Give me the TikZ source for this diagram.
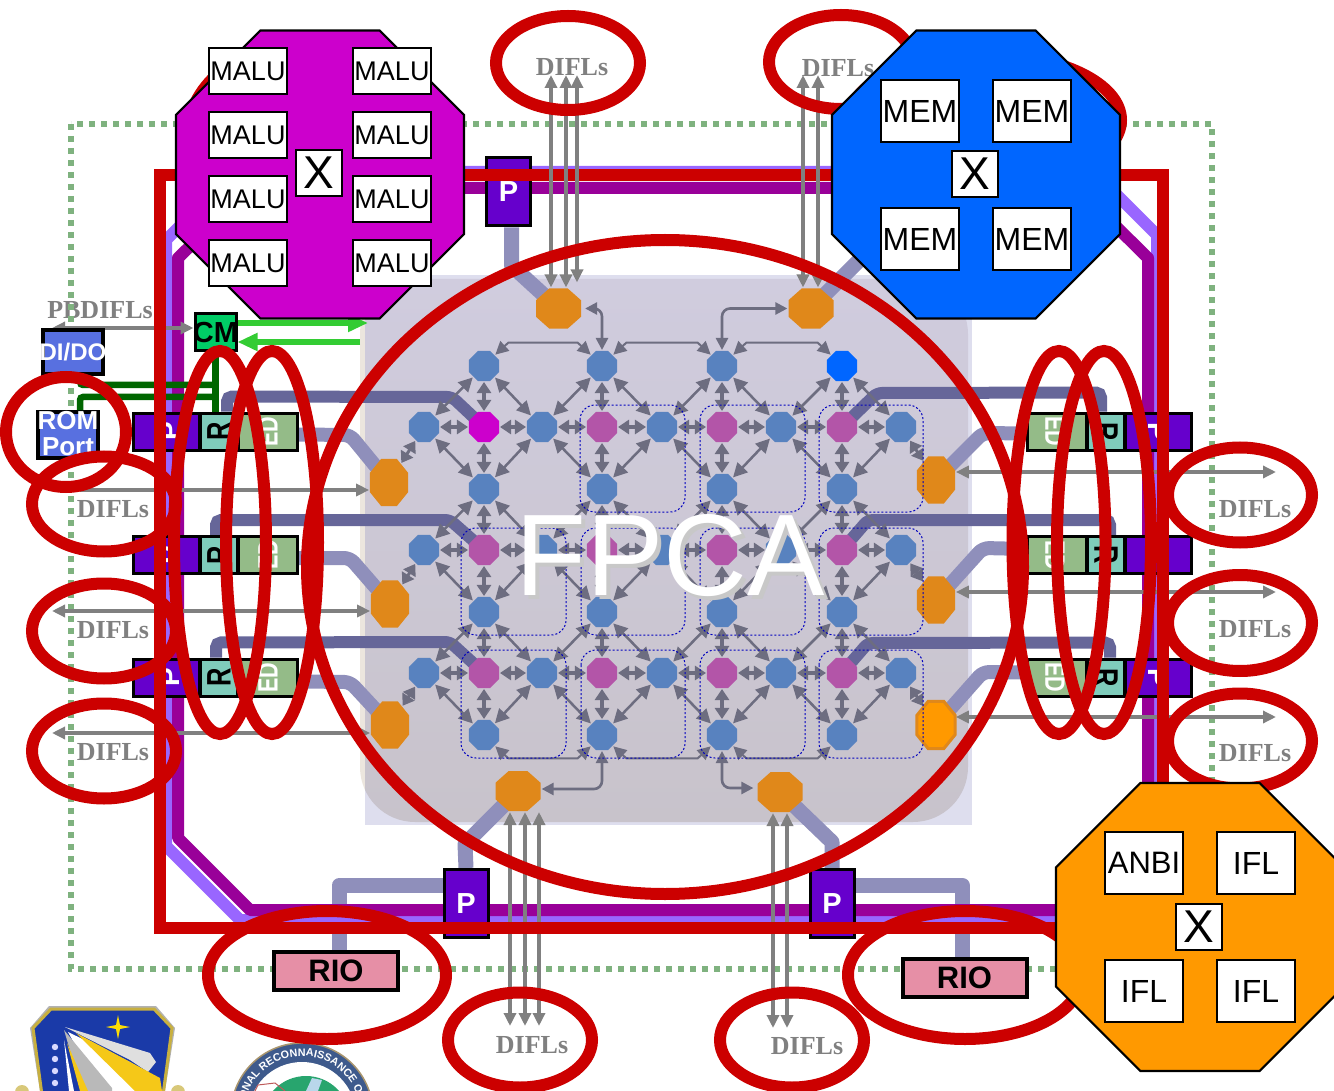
\documentclass[tikz,border=0pt]{standalone}
\usepackage{fontspec}
\setmainfont{Liberation Sans}
\newfontfamily\lserif{Liberation Serif}
\usetikzlibrary{shapes.geometric,arrows.meta,decorations.text}
\definecolor{redc}{HTML}{CC0000}
\definecolor{purp}{HTML}{990099}
\definecolor{viol}{HTML}{9966FF}
\definecolor{pbox}{HTML}{6600CC}
\definecolor{dots}{HTML}{7FB27F}
\definecolor{dbus}{HTML}{666699}
\definecolor{lbus}{HTML}{8F8FBB}
\definecolor{bluen}{HTML}{5882BF}
\definecolor{pinkn}{HTML}{B355A8}
\definecolor{magn}{HTML}{CC00CC}
\definecolor{bright}{HTML}{0066FF}
\definecolor{orgn}{HTML}{E0881A}
\definecolor{orgb}{HTML}{FF9900}
\definecolor{arr}{HTML}{6D6D80}
\definecolor{gry}{HTML}{808080}
\definecolor{rioc}{HTML}{E68FA6}
\definecolor{tealc}{HTML}{7FCCBB}
\definecolor{edc}{HTML}{94BB88}
\definecolor{didoc}{HTML}{5870E0}
\definecolor{cmc}{HTML}{00CC66}
\definecolor{dgreen}{HTML}{006600}
\definecolor{lgreen}{HTML}{33CC33}
\definecolor{shb}{HTML}{1A3AA8}
\definecolor{shg}{HTML}{C8B040}
\definecolor{shy}{HTML}{F5C818}
\definecolor{panA}{HTML}{ECE6DE}
\definecolor{panB}{HTML}{DEDEEE}
\definecolor{panT}{HTML}{D0CCDE}
\definecolor{panD}{HTML}{C8C3CB}
\definecolor{fshadow}{HTML}{C8C8C8}
\definecolor{sealb}{HTML}{3E5A8C}
\definecolor{sealr}{HTML}{AA966E}
\definecolor{sealg}{HTML}{28A56E}
\definecolor{seall}{HTML}{B9D7EB}
\definecolor{sealc}{HTML}{BE5A5A}
\pgfdeclarelayer{backl}
\pgfdeclarelayer{busl}
\pgfsetlayers{backl,busl,main}
\tikzset{
  oct/.style={regular polygon,regular polygon sides=8,inner sep=0pt},
  gridn/.style={oct,minimum size=32.5pt,outer sep=1pt,draw=none},
  orgH/.style={oct,minimum size=43.3pt,xscale=1.125,transform shape,fill=orgn,outer sep=1pt,draw=none},
  orgV/.style={oct,minimum size=50.9pt,xscale=.81,transform shape,fill=orgn,outer sep=1pt,draw=none},
  bigoct/.style={oct,minimum size=311.7pt,draw=black,line width=2.2pt},
  wbox/.style={draw=black,fill=white,line width=2.5pt,inner sep=0pt,minimum width=78pt,text=black},
  xbox/.style={draw=black,fill=white,line width=2.5pt,inner sep=0pt,minimum width=46pt,minimum height=46pt,font=\fontsize{46}{46}\selectfont},
  pnode/.style={draw=black,fill=pbox,line width=3pt,inner sep=0pt,minimum width=44pt,minimum height=68pt,text=white,font=\fontsize{29}{29}\selectfont\bfseries},
  stackb/.style={draw=black,line width=3pt,inner sep=0pt,minimum height=37pt},
  riobox/.style={draw=black,fill=rioc,line width=4pt,inner sep=0pt,minimum width=124pt,minimum height=38pt,font=\fontsize{31}{31}\selectfont\bfseries},
  romb/.style={draw=black,fill=didoc,line width=4pt,inner sep=0pt},
  difl/.style={text=gry,font=\fontsize{26}{26}\lserif\bfseries\selectfont,inner sep=0pt},
  redring/.style={draw=redc,line width=12pt},
  dbusl/.style={draw=dbus,line width=12pt,rounded corners=5pt},
  lbusl/.style={draw=lbus,line width=15pt,line join=round},
  lbuss/.style={lbusl,line width=14pt,rounded corners=6pt},
  ga/.style={draw=gry,line width=3.4pt,>={Triangle[length=13pt,width=12pt]}},
  gb/.style={draw=arr,line width=3.6pt,<->,>={Triangle[length=11pt,width=14pt]}},
  gd/.style={draw=arr,line width=2.5pt,<->,>={Triangle[length=14pt,width=14pt]}},
  gl/.style={draw=arr,line width=2pt,<->,>={Triangle[length=13pt,width=13pt]}},
  gc/.style={draw=arr,line width=2.6pt,<->,>={Triangle[length=12pt,width=12pt]},rounded corners=8pt},
  clus/.style={draw=blue!75!black,line width=1pt,dash pattern=on 2pt off 2pt,rounded corners=15pt},
  lgarrow/.style={draw=lgreen,line width=6pt,-{Triangle[length=20pt,width=17pt]}},
  dgline/.style={draw=dgreen,line width=6.5pt,rounded corners=3pt},
}
\begin{document}
\begin{tikzpicture}[x=1pt,y=-1pt]
\useasboundingbox (0,0) rectangle (1334,1091);
% P boxes, RIO and other named nodes
\node[pnode] (pT1) at (508.5,192) {P};
\node[pnode] (pB1) at (466,903.5) {P};
\node[pnode] (pB2) at (832,903.5) {P};
\node[riobox] (rioL) at (336,970.5) {RIO};
\node[riobox] (rioR) at (964.5,977.5) {RIO};
\node[draw=black,fill=cmc,line width=3pt,inner sep=0pt,minimum width=41pt,minimum height=37pt,font=\fontsize{29}{29}\selectfont\bfseries] (cm) at (215.5,332.5) {\makebox[0pt][c]{CM}};
% stacks
\foreach \k/\y in {1/431.5,2/555,3/677.5}{
  \node[stackb,fill=pbox,minimum width=66pt] (sp\k) at (166.5,\y) {};
  \node[stackb,fill=tealc,minimum width=37pt] (sr\k) at (219,\y) {};
  \node[stackb,fill=edc,minimum width=59pt] (se\k) at (268,\y) {};
  \node[stackb,fill=edc,minimum width=59pt] (te\k) at (1057,\y) {};
  \node[stackb,fill=tealc,minimum width=37pt] (tr\k) at (1106,\y) {};
  \node[stackb,fill=pbox,minimum width=66pt] (tp\k) at (1158.5,\y) {};
  \node[rotate=90,text=white,inner sep=0pt,font=\fontsize{28}{28}\selectfont\bfseries] (spt\k) at (170,\y) {P};
  \node[rotate=90,text=black,inner sep=0pt,font=\fontsize{34}{34}\selectfont\bfseries] (srt\k) at (219,\y) {\scalebox{.75}[1]{R}};
  \node[rotate=90,text=white,inner sep=0pt,font=\fontsize{28}{28}\selectfont\bfseries] (set\k) at (268,\y) {\scalebox{.77}[1]{ED}};
  \node[rotate=-90,text=white,inner sep=0pt,font=\fontsize{28}{28}\selectfont\bfseries] (tet\k) at (1055,\y) {\scalebox{.77}[1]{ED}};
  \node[rotate=-90,text=black,inner sep=0pt,font=\fontsize{34}{34}\selectfont\bfseries] (trt\k) at (1106,\y) {\scalebox{.75}[1]{R}};
  \node[rotate=-90,text=white,inner sep=0pt,font=\fontsize{28}{28}\selectfont\bfseries] (tpt\k) at (1158,\y) {P};
}
% grid nodes
\foreach \c/\x in {1/484,3/602,5/722,7/842}
  \foreach \r/\y in {0/366,2/489,4/612,6/735}{
    \def\fc{bluen}\ifnum\c\r=70 \def\fc{bright}\fi
    \node[gridn,fill=\fc] (n\c\r) at (\x,\y) {};
  }
\foreach \r/\y in {1/427,3/550,5/673}{
  \foreach \c/\x in {0/424,2/542,4/662,6/781,8/901}
    \node[gridn,fill=bluen] (n\c\r) at (\x,\y) {};
  \foreach \c/\x in {1/484,3/602,5/722,7/842}{
    \def\fc{pinkn}\ifnum\c\r=11 \def\fc{magn}\fi
    \node[gridn,fill=\fc] (n\c\r) at (\x,\y) {};
  }
}
% orange nodes
\node[orgH] (oT1) at (558.5,308.5) {};
\node[orgH] (oT2) at (811,308.5) {};
\node[orgH] (oB1) at (518,791) {};
\node[orgH] (oB2) at (780,792) {};
\node[orgV] (oL1) at (389,482.5) {};
\node[orgV] (oL2) at (390,604) {};
\node[orgV] (oL3) at (390,725) {};
\node[orgV] (oR1) at (936,480) {};
\node[orgV] (oR2) at (936,600) {};
\node[orgV,fill=orgb,draw=orgn,line width=3pt] (oR3) at (936,725) {};
% back layer
\begin{pgfonlayer}{backl}
\fill[panA,rounded corners=55pt] (360,279) rectangle (968,822);
\fill[panB] (365,275) rectangle (972,825);
\begin{scope}
\clip (365,275) rectangle (972,825);
\shade[top color=panT,bottom color=panD,rounded corners=55pt] (360,279) rectangle (968,822);
\end{scope}
\node[difl] (lbPB) at (100,310) {PBDIFLs};
\foreach \n/\x/\y in {a/572/67,b/838/68,c/1255/509,d/1255/629,e/1255/753,f/113/509,g/113/630,h/113/752,i/532/1045,j/807/1046}
  \node[difl] (lb\n) at (\x,\y) {DIFLs};
\draw[dots,line width=5.5pt,dash pattern=on 6pt off 6pt] (71,124) rectangle (1212,969);
\draw[lbusl] ([yshift=18pt]pB1.west) -| ([xshift=3pt]rioL.north);
\draw[lbusl] ([yshift=18pt]pB2.east) -| ([xshift=-2pt]rioR.north);
\draw[viol,line width=12pt,line join=round] (166,240) -- (234,172) -- (1094,172) -- (1157,235) -- (1157,842) -- (1079,920) -- (240,920) -- (166,846) -- cycle;
\draw[purp,line width=12pt,line join=round] (178,258) -- (250,188) -- (1077,188) -- (1148,258) -- (1148,838) -- (1077,910) -- (250,910) -- (178,838) -- cycle;
\end{pgfonlayer}
% bus layer
\begin{pgfonlayer}{busl}
\draw[lbusl] ([xshift=3pt]pT1.south) -- ++(0,38) -- (oT1.center);
\draw[lbusl] (oT2.center) -- ++(60,-60);
\draw[lbusl] (oB1.center) -- ++(-53,53) -- (pB1.north);
\draw[lbusl] (oB2.center) -- ++(52,50) -- (pB2.north);
\draw[lbuss] ([yshift=-3pt]se1.east) -- (350,435) -- (oL1.center);
\draw[lbuss] ([yshift=-3pt]se2.east) -- (350,558) -- (oL2.center);
\draw[lbuss] ([yshift=-4pt]se3.east) -- (350,682) -- (oL3.center);
\draw[lbuss] ([yshift=-2pt]te1.west) -- (983,433) -- (oR1.center);
\draw[lbuss] ([yshift=6pt]te2.west) -- (983,548) -- (oR2.center);
\draw[lbuss] ([yshift=5pt]te3.west) -- (983,672) -- (oR3.center);
\draw[dbusl] ([xshift=8pt]sr1.north) -- ++(0,-15) -- (452,397) -- (n11.center);
\draw[dbusl] ([xshift=-3pt]sr2.north) -- ++(0,-15) -- (450,520) -- (n13.center);
\draw[dbusl] ([xshift=-3pt]sr3.north) -- ++(0,-15) -- (450,642) -- (n15.center);
\draw[dbusl] ([xshift=-5pt]tr1.north) -- ++(0,-19) -- (877,393) -- (n71.center);
\draw[dbusl] ([xshift=4pt]tr2.north) -- ++(0,-15) -- (868,520) -- (n73.center);
\draw[dbusl] ([xshift=4pt]tr3.north) -- ++(0,-15) -- (868,643) -- (n75.center);
\end{pgfonlayer}
% grid connectors
\foreach \r in {1,3,5}
  \foreach \a/\b in {0/1,1/2,2/3,3/4,4/5,5/6,6/7,7/8}
    \draw[gb] (n\a\r) -- (n\b\r);
\foreach \c in {1,3,5,7}
  \foreach \a/\b in {0/1,1/2,2/3,3/4,4/5,5/6}
    \draw[gb] (n\c\a) -- (n\c\b);
\foreach \c/\l/\m in {1/0/2,3/2/4,5/4/6,7/6/8}
  \foreach \r/\o in {0/1,2/1,2/3,4/3,4/5,6/5}{
    \draw[gd] (n\c\r) -- (n\l\o);
    \draw[gd] (n\c\r) -- (n\m\o);
  }
\foreach \a/\b in {1/3,3/5,5/7}{
  \draw[gl] (n\a0.45) -- ++(13,-12) -- ([shift={(-13pt,12pt)}]n\b0.135) -- (n\b0.135);
  \draw[gl] (n\a6.-45) -- ++(13,12) -- ([shift={(-13pt,-12pt)}]n\b6.-135) -- (n\b6.-135);
}
\draw[gb,line width=3pt] (oL1) -- (n01);
\draw[gb,line width=3pt] (oL2) -- (n03);
\draw[gb,line width=3pt] (oL3) -- (n05);
\draw[gb,line width=3pt] (oR1) -- (n81);
\draw[gb,line width=3pt] (oR2) -- (n83);
\draw[gb,line width=3pt] (oR3) -- (n85);
\draw[gc] ([xshift=3pt]oT1.east) -| (n30.north);
\draw[gc] (oT2.west) -| (n50.north);
\draw[gc] ([yshift=2pt]oB1.east) -| (n36.south);
\draw[gc] (n56.south) |- ([yshift=4pt,xshift=-3pt]oB2.west);
% clusters
\foreach \a/\b in {580/685,700/805,819/923}
  \draw[clus] (\a,405) rectangle (\b,512);
\foreach \a/\b in {461/566,581/685,700/805,819/923}{
  \draw[clus] (\a,528) rectangle (\b,635);
  \draw[clus] (\a,650) rectangle (\b,758);
}
% grey arrows, side and bottom
\coordinate (hdd) at (52,328);
\draw[ga,<->] (hdd) -- (hdd -| cm.west);
\node[romb,minimum width=60pt,minimum height=44pt,text=white,font=\fontsize{24}{24}\selectfont\bfseries] (dido) at (73,352) {\makebox[0pt][c]{DI/DO}};
\node[romb,minimum width=60pt,minimum height=46pt] (rom) at (68,435) {};
\node[text=white,inner sep=0pt,align=center,font=\fontsize{26}{26}\selectfont\bfseries] (romt) at (68,434) {ROM\\Port};
\coordinate (hl1) at (80,490);
\coordinate (hl2) at (52,611);
\coordinate (hl3) at (52,733);
\draw[ga,->] (hl1) -- (hl1 -| oL1.west);
\draw[ga,<->] (hl2) -- (hl2 -| oL2.west);
\draw[ga,<->] (hl3) -- (hl3 -| oL3.west);
\foreach \k/\y in {1/472,2/592,3/717}{
  \coordinate (hr\k) at (1276,\y);
  \draw[ga,<->] (hr\k) -- (hr\k -| oR\k.east);
}
\foreach \k/\x in {1/510,2/525,3/539}{
  \coordinate (bl\k) at (\x,1026);
  \draw[ga,<->] (bl\k) -- (bl\k |- oB1.south);
}
\foreach \k/\x in {1/773,2/787}{
  \coordinate (br\k) at (\x,1028);
  \draw[ga,<->] (br\k) -- (br\k |- oB2.south);
}
% green links
\draw[dgline] (cm.south) -- (cm.south |- sr1.north);
\draw[dgline] ([xshift=7pt]dido.south) -- (80,385) -- (216,385);
\draw[dgline] ([xshift=12pt]rom.north) -- (80,397) -- (216,397);
\draw[lgarrow] ([yshift=9.5pt]cm.east) -- (368,323);
\coordinate (gs) at (360,342);
\draw[lgarrow] (gs) -- (gs -| cm.east);
% crest
\begin{scope}
\clip (0,0) rectangle (1334,1091);
\fill[gray!60] (49,1006) -- (156,1006) -- (175,1028) -- (165,1091) -- (40,1091) -- (30,1028) -- cycle;
\draw[shg,line width=3pt,fill=shb] (51,1009) -- (154,1009) -- (172,1028) -- (163,1095) -- (42,1095) -- (33,1028) -- cycle;
\fill[yellow!80!orange] (118,1015) -- (120,1025) -- (130,1027) -- (120,1029) -- (118,1039) -- (116,1029) -- (106,1027) -- (116,1025) -- cycle;
\foreach \y in {1047,1059,1071,1083} \fill[white!85!blue] (55,\y) circle (3.2pt);
\fill[white!75!gray] (65,1027) -- (150,1053) -- (156,1062) -- (148,1072) -- (130,1060) -- cycle;
\fill[white] (68,1032) -- (130,1062) -- (148,1074) -- (148,1091) -- (100,1091) -- cycle;
\fill[shy] (76,1033) -- (160,1078) -- (162,1091) -- (135,1091) -- cycle;
\fill[gray!55] (64,1030) -- (112,1088) -- (112,1091) -- (82,1091) -- cycle;
\fill[shy] (67,1043) -- (88,1091) -- (80,1091) -- cycle;
\fill[white] (64,1040) -- (74,1091) -- (69,1091) -- cycle;
\fill[shg!70!white] (22,1092) circle (7pt);
\fill[shg!70!white] (178,1092) circle (7pt);
% seal
\draw[fill=sealb,draw=sealr,line width=1.5pt] (302,1114) circle (71pt);
\fill[white] (302,1116) circle (54pt);
\fill[sealg] (306,1120) circle (44pt);
\fill[seall] (312,1078) -- (322,1080) -- (318,1091) -- (306,1091) -- cycle;
\draw[sealc,line width=1pt] (255,1091) -- (258,1085) -- (275,1083) -- (285,1091);
\path[decorate,decoration={text along path,text align=center,text={|\fontsize{10.8}{10.8}\selectfont\bfseries\color{white}|NATIONAL RECONNAISSANCE OFFICE}}] (247.5,1133.8) .. controls (233.7,1095.9) and (261.7,1056) .. (302,1056) .. controls (342.3,1056) and (370.3,1095.9) .. (356.5,1133.8);
\end{scope}
% red frame
\draw[redc,line width=12pt] (160,175) rectangle (1163,927.5);
% top grey arrows, over the frame
\foreach \k/\x in {1/551,2/566}{
  \coordinate (ta\k) at (\x,75);
  \draw[ga,<->] (ta\k) -- (ta\k |- oT1.north);
}
\coordinate (ta3) at (577,75);
\draw[ga,<->] (ta3) -- ([yshift=5pt]ta3 |- oT1.north);
\foreach \k/\x in {1/803,2/818}{
  \coordinate (tb\k) at (\x,75);
  \draw[ga,<->] (tb\k) -- (tb\k |- oT2.north);
}
% FPCA
\node[anchor=base,text=fshadow,inner sep=0pt,font=\fontsize{116}{116}\selectfont] (fpcas) at (674,599) {FPCA};
\node[anchor=base,text=white,inner sep=0pt,font=\fontsize{116}{116}\selectfont] (fpca) at (670,595) {FPCA};
% red ellipses
\foreach \x/\y/\a/\b in {568/63/72/47, 841/62/72/47, 66/432/60/55, 104/504/72/47.5, 104/631/72/47.5, 104/751/72/47.5, 1240/495/72/47.5, 1240/623/72/48, 1240/741/72/47.5, 520/1040/72/47.5, 792/1040/72/47.5, 327/975/119/64, 965/975/117/64, 220/542.5/46/191.5, 272/542.5/46/191.5, 1059/542.5/46.5/191.5, 1104/542.5/47/191.5, 665/567/358/327, 312/135/124/94, 985/120/136/66}
  \draw[redring] (\x,\y) ellipse [x radius=\a pt,y radius=\b pt];
% big octagons
\node[bigoct,fill=magn] (malu) at (320,174.5) {};
\node[bigoct,fill=bright] (mem) at (976,174.5) {};
\node[bigoct,fill=orgb] (anbi) at (1200,927) {};
\foreach \k/\y in {1/71,2/135,3/199,4/263}{
  \node[wbox,minimum height=46pt,font=\fontsize{27}{27}\selectfont] (ml\k) at (248,\y) {MALU};
  \node[wbox,minimum height=46pt,font=\fontsize{27}{27}\selectfont] (mr\k) at (392,\y) {MALU};
}
\node[xbox] (mx) at (319,173) {X};
\foreach \k/\y in {1/111,2/239}{
  \node[wbox,minimum height=62pt,font=\fontsize{32}{32}\selectfont] (el\k) at (920,\y) {MEM};
  \node[wbox,minimum height=62pt,font=\fontsize{32}{32}\selectfont] (er\k) at (1032,\y) {MEM};
}
\node[xbox] (ex) at (975,174) {X};
\node[wbox,minimum height=62pt,font=\fontsize{31}{31}\selectfont] (a1) at (1144,863) {ANBI};
\node[wbox,minimum height=62pt,font=\fontsize{32}{32}\selectfont] (a2) at (1256,863) {IFL};
\node[wbox,minimum height=62pt,font=\fontsize{32}{32}\selectfont] (a3) at (1144,991) {IFL};
\node[wbox,minimum height=62pt,font=\fontsize{32}{32}\selectfont] (a4) at (1256,991) {IFL};
\node[xbox] (ax) at (1199,927) {X};
\end{tikzpicture}
\end{document}
